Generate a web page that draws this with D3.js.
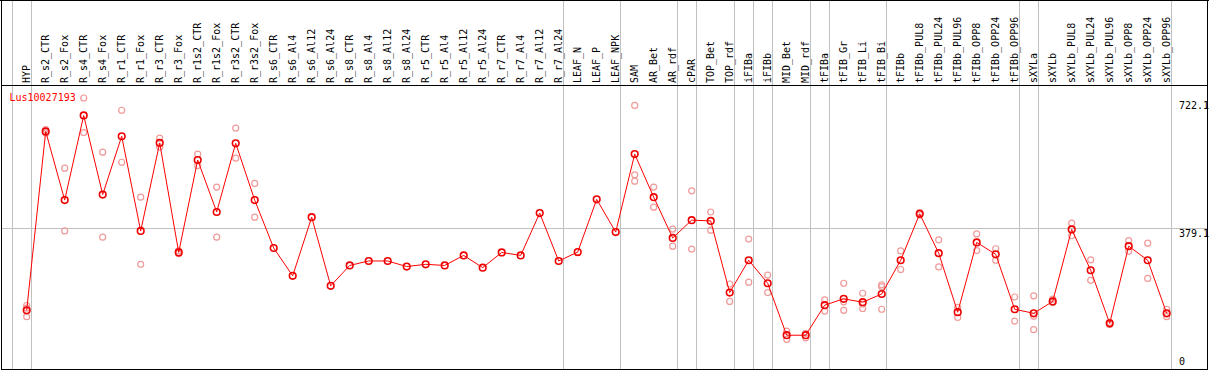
<!DOCTYPE html>
<html>
<head>
<meta charset="utf-8">
<script src="https://cdn.jsdelivr.net/npm/d3@7"></script>
<style>
html,body{margin:0;padding:0;background:#fff;}
svg{display:block;}
text{font-family:"DejaVu Sans Mono",monospace;font-size:10px;}
</style>
</head>
<body>
<svg id="chart" width="1209" height="370"></svg>
<script>
const categories = ["HYP","R_s2_CTR","R_s2_Fox","R_s4_CTR","R_s4_Fox","R_r1_CTR","R_r1_Fox","R_r3_CTR","R_r3_Fox","R_r1s2_CTR","R_r1s2_Fox","R_r3s2_CTR","R_r3s2_Fox","R_s6_CTR","R_s6_Al4","R_s6_Al12","R_s6_Al24","R_s8_CTR","R_s8_Al4","R_s8_Al12","R_s8_Al24","R_r5_CTR","R_r5_Al4","R_r5_Al12","R_r5_Al24","R_r7_CTR","R_r7_Al4","R_r7_Al12","R_r7_Al24","LEAF_N","LEAF_P","LEAF_NPK","SAM","AR_Bet","AR_rdf","cPAR","TOP_Bet","TOP_rdf","iFIBa","iFIBb","MID_Bet","MID_rdf","tFIBa","tFIB_Gr","tFIB_Li","tFIB_Bi","tFIBb","tFIBb_PUL8","tFIBb_PUL24","tFIBb_PUL96","tFIBb_OPP8","tFIBb_OPP24","tFIBb_OPP96","sXYLa","sXYLb","sXYLb_PUL8","sXYLb_PUL24","sXYLb_PUL96","sXYLb_OPP8","sXYLb_OPP24","sXYLb_OPP96"];

const meanValues = [158,640,455,683,470,627,372,609,314,563,423,608,455,326,251,409,224,279,291,291,276,282,279,306,273,314,306,420,291,315,457,369,579,463,353,401,399,206,293,231,91,91,172,189,180,202,293,418,312,153,341,309,161,150,182,376,266,123,331,293,150];

const replicates = [
  [171,164,141],[645,636],[541,372],[730,637],[584,355],[697,557],[463,282],[622,598],[318,311],[579,548],
  [490,355],[649,568],[500,409],[],[],[],[],[],[],[],
  [],[],[],[],[],[],[],[],[],[],
  [],[],[710,523,506],[490,436],[377,331],[480,323],[423,374],[229,182],[350,234],[253,206],
  [102,80],[96,84],[186,156],[231,181,158],[204,175,163],[227,222,161],[318,268],[421,415],[348,275],[166,139],
  [364,319],[324,293],[194,129],[197,142,106],[188,179],[393,359],[294,239],[126,120],[346,317],[339,244],
  [161,141]
];

// group separators: placed after these category indices (-1 = before first)
const separatorsAfter = [-1,0,28,31,34,35,37,38,39,41,42,45,52,53,60];

const yTickValues = [722.1, 379.1, 0];
const yTickLabels = ["722.1","379.1","0"];
const yGridValues = [379.1];
const geneName = "Lus10027193";

const W = 1209, H = 370;
const svg = d3.select("#chart");

const x = d3.scalePoint().domain(categories).range([26.7, 1166.7]);
const step = x.step();
const y = d3.scaleLinear().domain([0, 757]).range([369, 88]);

const sepX = i => x(categories[0]) + step * i + 4;

// vertical separators
svg.append("g").selectAll("line").data(separatorsAfter).join("line")
  .attr("x1", d => Math.round(sepX(d)) + 0.5).attr("x2", d => Math.round(sepX(d)) + 0.5)
  .attr("y1", 0).attr("y2", 370)
  .attr("stroke", "#c0c0c0").attr("stroke-width", 1);

// horizontal grid
svg.append("g").selectAll("line").data(yGridValues).join("line")
  .attr("x1", 1).attr("x2", 1208)
  .attr("y1", d => Math.round(y(d)) + 0.5).attr("y2", d => Math.round(y(d)) + 0.5)
  .attr("stroke", "#c0c0c0").attr("stroke-width", 1);

// header labels
svg.append("g").selectAll("text").data(categories).join("text")
  .attr("transform", d => `translate(${x(d) + 3.5},83) rotate(-90)`)
  .attr("text-anchor", "start")
  .attr("fill", "#000")
  .text(d => d);

// replicate points
const repData = [];
replicates.forEach((arr, i) => arr.forEach(v => repData.push({c: categories[i], v})));
svg.append("g").selectAll("circle").data(repData).join("circle")
  .attr("cx", d => x(d.c)).attr("cy", d => y(d.v)).attr("r", 3)
  .attr("fill", "none").attr("stroke", "#f09a9a").attr("stroke-width", 1.2);

// mean line
const line = d3.line().x((d, i) => x(categories[i])).y(d => y(d));
svg.append("path").datum(meanValues)
  .attr("d", line).attr("fill", "none").attr("stroke", "#ff0000").attr("stroke-width", 1);

// mean points
svg.append("g").selectAll("circle").data(meanValues).join("circle")
  .attr("cx", (d, i) => x(categories[i])).attr("cy", d => y(d)).attr("r", 3.3)
  .attr("fill", "none").attr("stroke", "#ee0000").attr("stroke-width", 1.6);

// y labels (right)
svg.append("g").selectAll("text").data(yTickValues).join("text")
  .attr("x", 1179)
  .attr("y", (d, i) => Math.min(y(d) + 8.5, 365))
  .attr("fill", "#000")
  .text((d, i) => yTickLabels[i]);

// gene name
svg.append("text").attr("x", 9.5).attr("y", 101).attr("fill", "#ff0000").text(geneName);

// borders
svg.append("line").attr("x1", 0).attr("x2", W).attr("y1", 0.5).attr("y2", 0.5).attr("stroke", "#000");
svg.append("line").attr("x1", 1).attr("x2", 1208).attr("y1", 85.5).attr("y2", 85.5).attr("stroke", "#000");
svg.append("line").attr("x1", 1).attr("x2", 1208).attr("y1", 369.5).attr("y2", 369.5).attr("stroke", "#000");
svg.append("line").attr("x1", 1.5).attr("x2", 1.5).attr("y1", 0).attr("y2", 370).attr("stroke", "#000");
svg.append("line").attr("x1", 1207.5).attr("x2", 1207.5).attr("y1", 0).attr("y2", 370).attr("stroke", "#000");
</script>
</body>
</html>
